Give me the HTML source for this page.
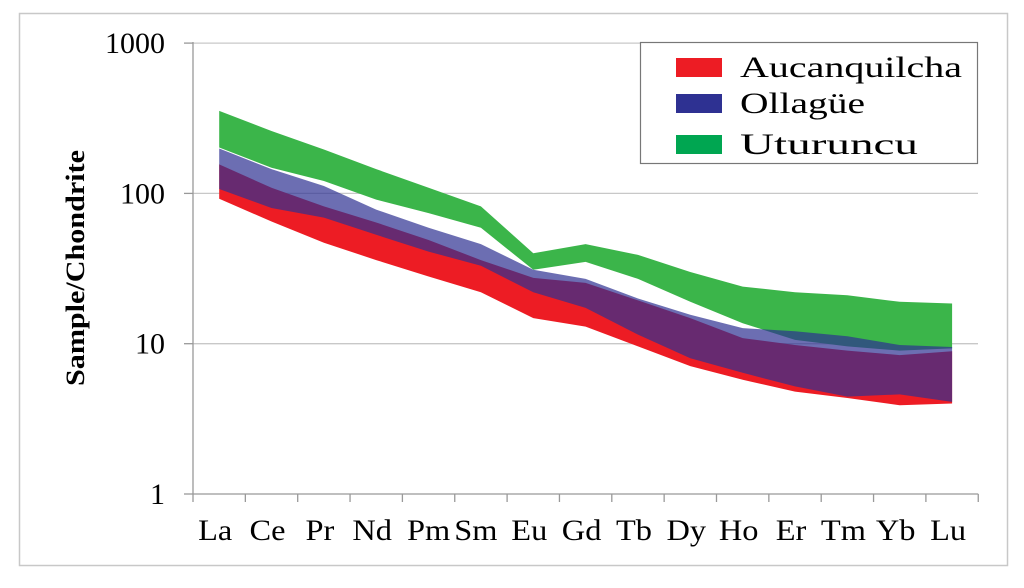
<!DOCTYPE html>
<html><head><meta charset="utf-8"><style>
body{margin:0;background:#fff}
svg text{font-family:"Liberation Serif",serif;fill:#000}
</style></head><body>
<svg id="chart" width="1024" height="583" viewBox="0 0 1024 583" xmlns="http://www.w3.org/2000/svg">
<rect x="19.5" y="13.5" width="988" height="552" fill="#fff" stroke="#c8c8c8" stroke-width="1.5"/>
<g id="grid"></g>
<g id="bands"></g>
<g id="axes"></g>
<text transform="translate(84,268) rotate(-90)" text-anchor="middle" font-size="26" font-weight="bold" textLength="236" lengthAdjust="spacingAndGlyphs">Sample/Chondrite</text>
<g>
<rect x="640.5" y="42.5" width="337" height="121" fill="#fff" stroke="#777" stroke-width="1.2"/>
<rect x="676" y="58" width="46" height="19" fill="#ed1c24"/>
<text x="740" y="77" font-size="30" textLength="222" lengthAdjust="spacingAndGlyphs">Aucanquilcha</text>
<rect x="676" y="94" width="46" height="19" fill="#2e3192"/>
<text x="740" y="113" font-size="30" textLength="125" lengthAdjust="spacingAndGlyphs">Ollagüe</text>
<rect x="676" y="135" width="46" height="19" fill="#00a651"/>
<text x="740" y="154" font-size="30" textLength="178" lengthAdjust="spacingAndGlyphs">Uturuncu</text>
</g>
</svg>
<script>
const categories=["La","Ce","Pr","Nd","Pm","Sm","Eu","Gd","Tb","Dy","Ho","Er","Tm","Yb","Lu"];
const uturuncuHigh=[354,260,196,145,109,82,40,46,39,30,24,22,21,19,18.5];
const uturuncuLow=[202,148,121,91,74,59,31,35,27,19,13.7,10.6,9.6,9,9.3];
const ollagueHigh=[199,145,112,78,59,46,31,27,20,15.6,12.7,12.1,11.2,9.8,9.5];
const ollagueLow=[107,80,69,53,41,33,22,17.3,11.5,8.0,6.4,5.2,4.45,4.6,4.1];
const aucanquilchaHigh=[156,109,82,64,49,36,27.4,25.4,19.4,14.8,10.9,9.8,9.0,8.4,8.9];
const aucanquilchaLow=[92,65,47,36,28,22,14.8,13,9.6,7.1,5.75,4.8,4.35,3.9,4.0];
const yTicks=[1,10,100,1000];
const NS="http://www.w3.org/2000/svg";
const X0=193,STEP=52.35,Y1=494,DEC=150.3;
function xPos(i){return X0+STEP*(i+0.5);}
function yPos(v){return Y1-DEC*Math.log10(v);}
function mk(tag,attrs,parent){const e=document.createElementNS(NS,tag);for(const k in attrs)e.setAttribute(k,attrs[k]);parent.appendChild(e);return e;}
const grid=document.getElementById('grid'),bands=document.getElementById('bands'),axes=document.getElementById('axes');
yTicks.forEach(t=>{
  const y=yPos(t);
  if(t>1){const g=mk('line',{x1:X0,x2:978,y1:y,y2:y,stroke:'#c8c8c8','stroke-width':1.3},grid);
  
  }
  const tk=mk('line',{x1:184,x2:X0,y1:y,y2:y,stroke:'#999','stroke-width':1.3},axes);
  
  
  const tx=mk('text',{x:165,y:y+10,'text-anchor':'end','font-size':30},axes);
  tx.textContent=String(t);
  
  
});
function band(hi,lo,fill,op,name){
  let d='';
  hi.forEach((v,i)=>{d+=(i?'L':'M')+xPos(i).toFixed(1)+','+yPos(v).toFixed(1);});
  for(let i=lo.length-1;i>=0;i--)d+='L'+xPos(i).toFixed(1)+','+yPos(lo[i]).toFixed(1);
  const p=mk('path',{d:d+'Z',fill:fill,'fill-opacity':op},bands);
  
  
}
band(uturuncuHigh,uturuncuLow,'#3bb54a',1,'band-uturuncu');
band(aucanquilchaHigh,aucanquilchaLow,'#ed1c24',1,'band-aucanquilcha');
band(ollagueHigh,ollagueLow,'#2e3192',0.7,'band-ollague');
const ya=mk('line',{x1:X0,x2:X0,y1:42,y2:Y1,stroke:'#999','stroke-width':1.3},axes);


const xa=mk('line',{x1:X0,x2:X0+STEP*categories.length,y1:Y1,y2:Y1,stroke:'#999','stroke-width':1.3},axes);


for(let i=0;i<=categories.length;i++){
  const x=X0+STEP*i;
  const t=mk('line',{x1:x,x2:x,y1:Y1,y2:Y1+8,stroke:'#999','stroke-width':1.3},axes);
  
  
}
categories.forEach((c,i)=>{
  let x=xPos(i)-4;
  if(c==='Pm')x+=4; if(c==='Sm')x-=1;
  const t=mk('text',{transform:'translate('+x.toFixed(1)+',540) scale(1.08,1)','text-anchor':'middle','font-size':30},axes);
  t.textContent=c;
  
  
});
</script>
</body></html>
